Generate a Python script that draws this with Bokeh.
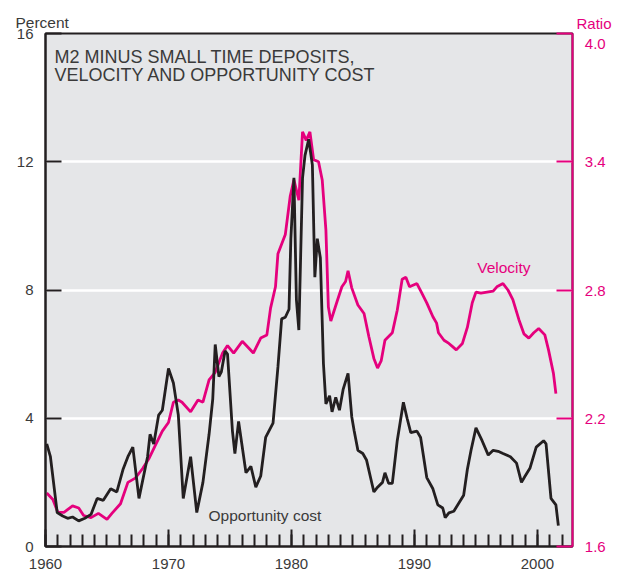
from bokeh.plotting import figure
from bokeh.models import (Range1d, LinearAxis, FixedTicker, SingleIntervalTicker, Label, Title,
                          CustomJSTickFormatter)
from bokeh.embed import file_html
from bokeh.resources import INLINE

# ---- data ----
opp_years = [1960.1, 1960.4, 1960.95, 1961.4, 1961.8, 1962.2, 1962.7, 1963.2, 1963.7, 1964.2,
             1964.7, 1965.3, 1965.8, 1966.3, 1966.7, 1967.1, 1967.6, 1968.3, 1968.5, 1968.8,
             1969.2, 1969.5, 1970.0, 1970.4, 1970.8, 1971.2, 1971.8, 1972.3, 1972.8, 1973.3,
             1973.6, 1973.8, 1974.1, 1974.3, 1974.6, 1974.8, 1975.2, 1975.4, 1975.7, 1976.3,
             1976.7, 1977.1, 1977.5, 1977.9, 1978.5, 1978.9, 1979.2, 1979.5, 1979.8, 1979.95,
             1980.2, 1980.4, 1980.6, 1980.9, 1981.1, 1981.4, 1981.7, 1981.9, 1982.1, 1982.35,
             1982.6, 1982.8, 1983.1, 1983.3, 1983.6, 1983.9, 1984.2, 1984.6, 1984.9, 1985.1,
             1985.4, 1985.8, 1986.1, 1986.4, 1986.7, 1987.0, 1987.4, 1987.6, 1987.9, 1988.2,
             1988.6, 1989.1, 1989.4, 1989.7, 1990.2, 1990.5, 1990.7, 1991.0, 1991.5, 1991.9,
             1992.3, 1992.5, 1992.8, 1993.2, 1993.6, 1994.0, 1994.3, 1994.6, 1995.0, 1995.5,
             1996.0, 1996.4, 1996.8, 1997.2, 1997.8, 1998.3, 1998.7, 1999.0, 1999.4, 1999.9,
             2000.5, 2000.7, 2001.1, 2001.5, 2001.7]
opp_cost = [3.2, 2.8, 1.06, 0.95, 0.88, 0.92, 0.8, 0.88, 1.0, 1.5,
            1.44, 1.8, 1.7, 2.4, 2.8, 3.1, 1.5, 2.8, 3.5, 3.2,
            4.1, 4.25, 5.55, 5.1, 4.1, 1.5, 2.8, 1.06, 2.0, 3.5,
            4.6, 6.3, 5.3, 5.45, 6.1, 6.0, 3.6, 2.9, 3.9, 2.3,
            2.5, 1.85, 2.2, 3.4, 3.85, 5.6, 7.1, 7.15, 7.4, 9.6,
            11.5, 7.7, 6.75, 11.5, 12.2, 12.7, 11.9, 8.4, 9.6, 9.0,
            5.7, 4.45, 4.7, 4.2, 4.65, 4.25, 4.9, 5.4, 4.05, 3.6,
            3.0, 2.9, 2.7, 2.2, 1.7, 1.85, 2.0, 2.3, 1.97, 1.97,
            3.3, 4.5, 4.0, 3.55, 3.6, 3.4, 2.9, 2.15, 1.8, 1.3,
            1.2, 0.9, 1.05, 1.1, 1.35, 1.6, 2.4, 3.0, 3.7, 3.3,
            2.85, 3.0, 2.97, 2.9, 2.8, 2.6, 2.0, 2.2, 2.45, 3.1,
            3.3, 3.2, 1.5, 1.3, 0.65]

vel_years = [1960.1, 1960.6, 1961.0, 1961.5, 1962.2, 1962.7, 1963.1, 1963.7, 1964.3, 1965.0,
             1965.4, 1966.1, 1966.7, 1967.3, 1967.9, 1968.4, 1968.9, 1969.5, 1970.0, 1970.4,
             1970.8, 1971.1, 1971.8, 1972.4, 1972.8, 1973.3, 1973.8, 1974.4, 1974.8, 1975.3,
             1976.0, 1976.5, 1976.9, 1977.5, 1978.0, 1978.3, 1978.7, 1978.9, 1979.5, 1979.9,
             1980.2, 1980.6, 1980.9, 1981.2, 1981.5, 1981.8, 1982.2, 1982.5, 1982.8, 1983.0,
             1983.2, 1983.7, 1984.1, 1984.4, 1984.6, 1984.9, 1985.4, 1985.9, 1986.3, 1986.7,
             1987.0, 1987.3, 1987.6, 1988.2, 1988.6, 1989.0, 1989.3, 1989.6, 1990.2, 1990.6,
             1991.0, 1991.5, 1991.8, 1991.95, 1992.4, 1992.8, 1993.1, 1993.4, 1993.9, 1994.3,
             1994.7, 1995.0, 1995.4, 1995.9, 1996.4, 1996.7, 1997.2, 1997.6, 1998.0, 1998.5,
             1998.9, 1999.3, 1999.7, 2000.1, 2000.6, 2000.9, 2001.3, 2001.5]
velocity = [1.85, 1.82, 1.76, 1.76, 1.79, 1.78, 1.745, 1.735, 1.755, 1.727,
            1.755, 1.80, 1.90, 1.92, 1.965, 2.01, 2.07, 2.14, 2.18, 2.275,
            2.285, 2.275, 2.23, 2.285, 2.275, 2.38, 2.415, 2.505, 2.54, 2.505,
            2.56, 2.53, 2.505, 2.575, 2.59, 2.715, 2.815, 2.97, 3.06, 3.24,
            3.315, 3.22, 3.54, 3.50, 3.54, 3.41, 3.40, 3.315, 3.08, 2.72,
            2.655, 2.745, 2.815, 2.84, 2.89, 2.81, 2.73, 2.69, 2.58, 2.48,
            2.435, 2.47, 2.565, 2.60, 2.705, 2.85, 2.86, 2.815, 2.83, 2.785,
            2.74, 2.675, 2.645, 2.60, 2.565, 2.55, 2.535, 2.52, 2.55, 2.625,
            2.74, 2.79, 2.785, 2.79, 2.795, 2.815, 2.83, 2.80, 2.755, 2.66,
            2.595, 2.575, 2.60, 2.62, 2.59, 2.52, 2.41, 2.315]

left_ticks = [0, 4, 8, 12, 16]
right_ticks = [1.6, 2.2, 2.8, 3.4, 4.0]

BLACK = "#231f20"
MAGENTA = "#e5007d"
GREY_TXT = "#3a3a3a"
FONT = "Liberation Sans"
TICK_SIZE = "15px"
LBL_SIZE = "15.5px"

p = figure(frame_width=527, frame_height=513, output_backend="svg", toolbar_location=None,
           x_range=Range1d(1960, 2002.85), y_range=Range1d(0, 16),
           min_border_left=45, min_border_top=33, min_border_right=42, min_border_bottom=30,
           x_axis_location=None, y_axis_location=None)
p.background_fill_color = "#e5e6e8"
p.border_fill_color = "white"
p.outline_line_color = BLACK
p.outline_line_width = 2
p.extra_y_ranges = {"ratio": Range1d(1.6, 4.0)}

# "Percent" header as a title, pulled left over the axis labels
p.title = Title(text="Percent", align="left", offset=-30, text_font=FONT, text_font_size=LBL_SIZE,
                text_color=GREY_TXT, text_font_style="normal", standoff=6)

# bottom axis
xa = LinearAxis(ticker=SingleIntervalTicker(interval=10, num_minor_ticks=10))
xa.axis_line_color = BLACK
xa.axis_line_width = 2
xa.major_tick_in = 17
xa.major_tick_out = 0
xa.minor_tick_in = 12
xa.minor_tick_out = 0
xa.major_tick_line_color = BLACK
xa.major_tick_line_width = 2
xa.minor_tick_line_color = BLACK
xa.minor_tick_line_width = 2
xa.major_label_text_font = FONT
xa.major_label_text_font_size = TICK_SIZE
xa.major_label_text_color = GREY_TXT
xa.major_label_standoff = 12
p.add_layout(xa, "below")

# left axis
ya = LinearAxis(ticker=FixedTicker(ticks=left_ticks))
ya.axis_line_color = BLACK
ya.axis_line_width = 2
ya.major_tick_in = 16
ya.major_tick_out = 0
ya.major_tick_line_color = BLACK
ya.major_tick_line_width = 2
ya.minor_tick_line_color = None
ya.major_label_text_font = FONT
ya.major_label_text_font_size = TICK_SIZE
ya.major_label_text_color = GREY_TXT
ya.major_label_standoff = 12
p.add_layout(ya, "left")

# right axis; the top tick label carries the "Ratio" header above it
ra = LinearAxis(y_range_name="ratio", ticker=FixedTicker(ticks=right_ticks),
                formatter=CustomJSTickFormatter(code="""
                    const pad = "\\u00a0\\u00a0";
                    return tick > 3.99 ? "Ratio\\n" + pad + tick.toFixed(1) : pad + tick.toFixed(1);
                """))
ra.axis_line_color = MAGENTA
ra.axis_line_width = 2
ra.major_tick_in = 16
ra.major_tick_out = 0
ra.major_tick_line_color = MAGENTA
ra.major_tick_line_width = 2
ra.minor_tick_line_color = None
ra.major_label_text_font = FONT
ra.major_label_text_font_size = TICK_SIZE
ra.major_label_text_color = MAGENTA
ra.major_label_standoff = 4
p.add_layout(ra, "right")

# grid
p.xgrid.grid_line_color = None
p.ygrid.ticker = FixedTicker(ticks=[4, 8, 12])
p.ygrid.grid_line_color = "white"
p.ygrid.grid_line_width = 2.5

# series
p.line(vel_years, velocity, y_range_name="ratio", line_color=MAGENTA, line_width=2.8)
p.line(opp_years, opp_cost, line_color=BLACK, line_width=2.8)

# texts
p.add_layout(Label(x=1960.73, y=15.26, text="M2 MINUS SMALL TIME DEPOSITS,", text_font="Liberation Sans",
                   text_font_size="18px", text_color=GREY_TXT, text_baseline="alphabetic"))
p.add_layout(Label(x=1960.73, y=14.72, text="VELOCITY AND OPPORTUNITY COST", text_font="Liberation Sans",
                   text_font_size="18px", text_color=GREY_TXT, text_baseline="alphabetic"))
p.add_layout(Label(x=1995.1, y=8.69, text="Velocity", text_font=FONT,
                   text_font_size=LBL_SIZE, text_color=MAGENTA, text_baseline="alphabetic"))
p.add_layout(Label(x=1973.25, y=0.97, text="Opportunity cost", text_font=FONT,
                   text_font_size=LBL_SIZE, text_color=GREY_TXT, text_baseline="alphabetic"))

open("out.html", "w").write(file_html(p, INLINE))
